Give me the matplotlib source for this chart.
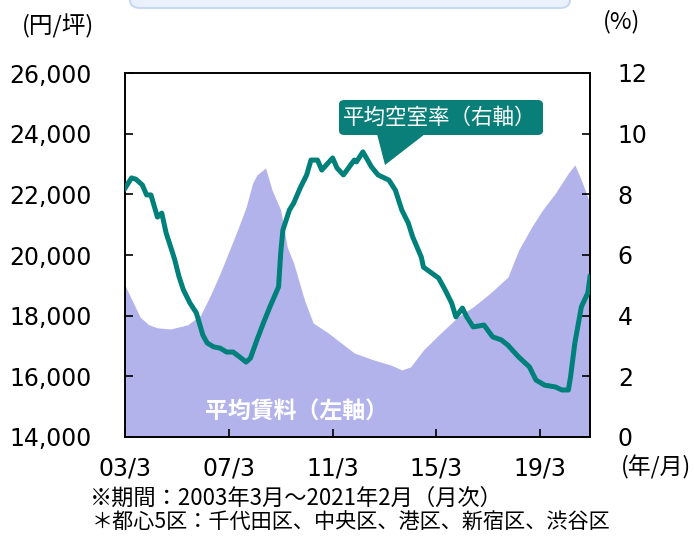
import matplotlib
matplotlib.use('Agg')
import matplotlib.pyplot as plt
from matplotlib.patches import FancyBboxPatch, Polygon

plt.rcParams['font.family'] = ['DejaVu Sans', 'Noto Sans CJK JP']
JP = ['Noto Sans CJK JP', 'DejaVu Sans']

# months counted from 2003/3
rent_month = [0, 4, 7, 11, 15, 21, 29, 35, 40, 44, 47, 52, 56, 59, 61, 65, 68, 72,
              75, 78, 83, 87, 94, 100, 106, 115, 123, 128, 132, 138, 146, 154, 161,
              169, 177, 182, 188, 193, 199, 205, 208, 211, 215]
rent_value = [19000, 18400, 17950, 17700, 17600, 17560, 17700, 18020, 18750, 19400,
              19930, 20820, 21580, 22370, 22640, 22870, 22140, 21480, 20260, 19730,
              18510, 17760, 17430, 17100, 16770, 16540, 16370, 16210, 16310, 16870,
              17430, 17960, 18290, 18750, 19270, 20160, 20920, 21480, 22040, 22700,
              22970, 22470, 21700]

vac_month = [0, 3, 5, 8, 10, 12, 15, 17, 19, 22, 23, 25, 27, 30, 33, 36, 38, 41, 44,
             47, 50, 53, 56, 58, 61, 64, 67, 71, 72, 73, 76, 78, 81, 84, 86, 89, 91,
             96, 98, 101, 106, 107, 110, 114, 117, 122, 125, 128, 131, 133, 137, 138,
             145, 148, 151, 153, 156, 158, 161, 166, 170, 174, 177, 182, 187, 190, 194,
             199, 202, 205, 206, 208, 211, 214, 215]
vac_value = [8.2, 8.54, 8.5, 8.31, 7.98, 7.98, 7.25, 7.38, 6.73, 6.07, 5.84, 5.28, 4.85,
             4.42, 4.09, 3.36, 3.1, 2.97, 2.93, 2.8, 2.8, 2.64, 2.47, 2.6, 3.2, 3.76,
             4.29, 4.95, 6.07, 6.82, 7.48, 7.71, 8.21, 8.64, 9.13, 9.13, 8.8, 9.2, 8.87,
             8.64, 9.13, 9.07, 9.4, 8.9, 8.64, 8.47, 8.14, 7.48, 7.05, 6.6, 5.93, 5.6,
             5.24, 4.85, 4.42, 3.96, 4.25, 3.96, 3.63, 3.69, 3.3, 3.2, 3.03, 2.64, 2.31,
             1.88, 1.71, 1.65, 1.55, 1.55, 1.98, 3.1, 4.29, 4.75, 5.28]

xtick_pos = [0, 48, 96, 144, 192]
xtick_labels = ['03/3', '07/3', '11/3', '15/3', '19/3']
left_ticks = [14000, 16000, 18000, 20000, 22000, 24000, 26000]
right_ticks = [0, 2, 4, 6, 8, 10, 12]

W, H = 694, 536
fig = plt.figure(figsize=(W / 100, H / 100), dpi=100)
ax = fig.add_axes([125 / W, 1 - 437 / H, 465 / W, 364 / H])

ax.fill_between(rent_month, 14000, rent_value, color='#B3B3EB', lw=0, zorder=1)
ax.set_xlim(0, 215)
ax.set_ylim(14000, 26000)
ax.set_yticks(left_ticks)
ax.set_yticklabels(['{:,}'.format(v) for v in left_ticks])
ax.set_xticks(xtick_pos)
ax.set_xticklabels(xtick_labels)
ax.tick_params(axis='y', direction='in', length=6, width=1.2, labelsize=17, pad=24)
ax.tick_params(axis='x', direction='in', length=6, width=1.2, labelsize=17, pad=14)

ax2 = ax.twinx()
ax2.plot(vac_month, vac_value, color='#00807A', lw=3.6, solid_joinstyle='round', zorder=3)
ax2.set_ylim(0, 12)
ax2.set_yticks(right_ticks)
ax2.tick_params(axis='y', direction='in', length=6, width=1.2, labelsize=17, pad=20)

for a in (ax, ax2):
    for s in a.spines.values():
        s.set_linewidth(1.2)
        s.set_color('black')

# callout for vacancy rate
def fx(px):
    return px / W

def fy(py):
    return 1 - py / H

box = FancyBboxPatch((fx(339), fy(135)), fx(543) - fx(339), fy(100) - fy(135),
                     boxstyle='round,pad=0,rounding_size=0.008', transform=fig.transFigure,
                     fc='#0A7F7A', ec='none', zorder=5)
fig.patches.append(box)
tri = Polygon([(fx(377), fy(134)), (fx(425), fy(134)), (fx(385), fy(165))],
              closed=True, transform=fig.transFigure, fc='#0A7F7A', ec='none', zorder=5)
fig.patches.append(tri)
fig.text(fx(440), fy(118), '平均空室率（右軸）', family=JP, fontsize=15.5, color='white',
         ha='center', va='center', zorder=10)

ax.text(fx(296), fy(412), '平均賃料（左軸）', family=JP, fontsize=16.5, color='white',
        fontweight='bold', ha='center', va='center', transform=fig.transFigure, zorder=4)

# partially visible title box at the top
top = FancyBboxPatch((fx(130), fy(8)), fx(570) - fx(130), 0.05,
                     boxstyle='round,pad=0,rounding_size=0.015', transform=fig.transFigure,
                     fc='#EAF1FB', ec='#C6D9F0', lw=1.5)
fig.patches.append(top)

fig.text(fx(58), fy(26), '(円/坪)', family=JP, fontsize=17, ha='center', va='center')
fig.text(fx(622), fy(22), '(%)', family=JP, fontsize=17, ha='center', va='center')
fig.text(fx(656), fy(467), '(年/月)', family=JP, fontsize=16.5, ha='center', va='center')
fig.text(fx(90), fy(498), '※期間：2003年3月～2021年2月（月次）', family=JP, fontsize=16,
         ha='left', va='center')
fig.text(fx(92), fy(523), '＊都心5区：千代田区、中央区、港区、新宿区、渋谷区', family=JP,
         fontsize=15.2, ha='left', va='center')

fig.savefig('out.png', dpi=100)
